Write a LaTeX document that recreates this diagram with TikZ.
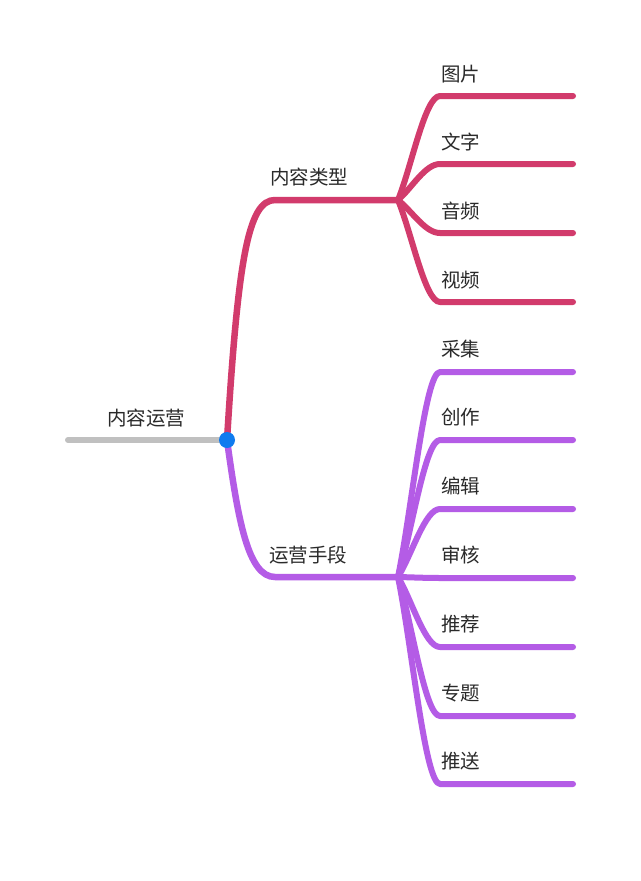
\documentclass[tikz,border=0pt]{standalone}
\usepackage{fontspec}
\newfontfamily\cjkfont{Noto Sans CJK SC}
\usepackage{tikz}
\usetikzlibrary{positioning}
\definecolor{mmRose}{HTML}{D23B6C}
\definecolor{mmViolet}{HTML}{B45CE6}
\definecolor{mmGrey}{HTML}{C0C0C0}
\definecolor{mmBlue}{HTML}{0F7BEF}
\definecolor{mmInk}{HTML}{2A2A2A}
\tikzset{
  mm diagram/.style={x=1pt, y=-1pt, text=mmInk,
    font=\cjkfont\fontsize{19.5}{19.5}\selectfont,
    line cap=round, line join=round},
  mm trunk/.style={draw=mmGrey, line width=6pt},
  mm branch/.style={line width=6.5pt},
  mm leaf/.style={line width=6pt},
  mm label/.style={inner sep=0pt, anchor=base west},
  mm dot/.style={circle, fill=mmBlue, inner sep=0pt, minimum size=16pt}
}

\begin{document}
\begin{tikzpicture}[mm diagram]
\useasboundingbox[fill=white] (0,0) rectangle (640,881);
\coordinate (trunkEnd) at (68,440);
\coordinate (hub) at (227,440);
\coordinate (typeCorner) at (275,200);
\coordinate (typeJoin) at (398,200);
\coordinate (meansCorner) at (275,577);
\coordinate (meansJoin) at (398,577);
% leaves of the upper branch
\foreach \y/\txt [count=\i] in {96/图片,164/文字,233/音频,302/视频}{
  \coordinate (typeStart\i) at (440,\y);
  \coordinate (typeEnd\i) at (573,\y);
  \node[mm label] (typeLeaf\i) at (441,{\y-15}) {\txt};
  \draw[mm leaf,draw=mmRose] (typeJoin)
    .. controls (412,{200+(\y-200)/3}) and (425,\y) .. (typeStart\i) -- (typeEnd\i);
}
% leaves of the lower branch
\foreach \y/\txt [count=\i] in {372/采集,440/创作,509/编辑,578/审核,647/推荐,716/专题,784/推送}{
  \coordinate (meansStart\i) at (440,\y);
  \coordinate (meansEnd\i) at (573,\y);
  \node[mm label] (meansLeaf\i) at (441,{\y-16}) {\txt};
  \draw[mm leaf,draw=mmViolet] (meansJoin)
    .. controls (412,{577+(\y-577)/3}) and (425,\y) .. (meansStart\i) -- (meansEnd\i);
}
\draw[mm branch,draw=mmRose] (hub) .. controls (238,260) and (248,200) .. (typeCorner) -- (typeJoin);
\draw[mm branch,draw=mmViolet] (hub) .. controls (238,520) and (248,577) .. (meansCorner) -- (meansJoin);
\node[mm label] (typeLabel) at (270,184) {内容类型};
\node[mm label] (meansLabel) at (269,562) {运营手段};
\draw[mm trunk] (trunkEnd) -- (hub);
\node[mm label] (rootLabel) at (107,425) {内容运营};
\node[mm dot] (hubDot) at (hub) {};
\end{tikzpicture}
\end{document}
